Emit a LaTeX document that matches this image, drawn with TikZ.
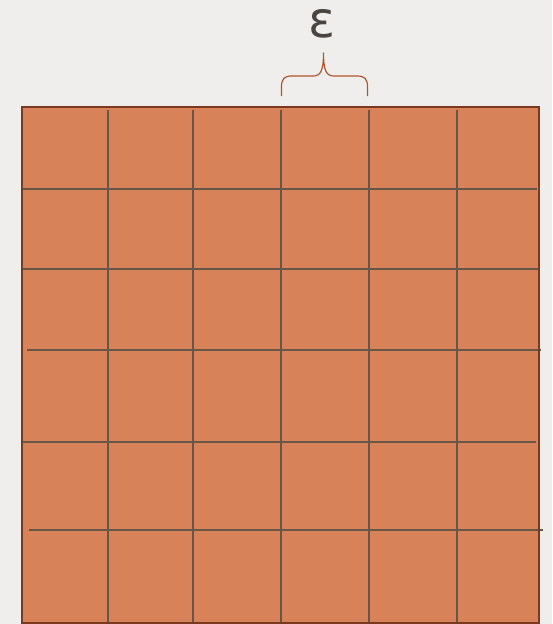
\documentclass[tikz,border=0pt]{standalone}
\usepackage{fontspec}
\newfontfamily\epsfont{DejaVu Sans}
\definecolor{bgc}{HTML}{EFEEEC}
\definecolor{tilec}{HTML}{D8825A}
\definecolor{borderc}{HTML}{7B3A1F}
\definecolor{gridc}{HTML}{665648}
\definecolor{bracec}{HTML}{B0552C}
\definecolor{epsc}{HTML}{4A4540}
\tikzset{
  gridline/.style={draw=gridc, line width=1.1pt},
  bracestyle/.style={draw=bracec, line width=1.2pt, line join=round},
}
\begin{document}
\begin{tikzpicture}[x=1pt,y=-1pt]
\fill[bgc] (0,0) rectangle (552,624);
\useasboundingbox (0,0) rectangle (552,624);
% tile
\fill[tilec] (22,107) rectangle (539,623);
% vertical grid lines
\foreach \xx in {108,193,281,369,457}
  \draw[gridline] (\xx,110) -- (\xx,622);
% horizontal grid lines
\draw[gridline] (22,189) -- (537,189);
\draw[gridline] (22,269) -- (538,269);
\draw[gridline] (27,350) -- (541,350);
\draw[gridline] (22,442) -- (536,442);
\draw[gridline] (29,530) -- (543,530);
% border
\draw[draw=borderc, line width=2.2pt] (22,107) rectangle (539,623);
% brace
\coordinate (bl) at (281.5,96);
\coordinate (br) at (367.5,96);
\coordinate (tip) at (323.5,53);
\draw[bracestyle] (bl) -- (281.5,87)
  .. controls (281.5,79) and (284,76) .. (292,76) -- (313,76)
  .. controls (320,76) and (323.5,72) .. (tip)
  .. controls (323.5,72) and (327,76) .. (334,76) -- (357,76)
  .. controls (365,76) and (367.5,79) .. (367.5,87) -- (br);
\node[text=epsc, font=\epsfont\fontsize{50}{50}\selectfont, inner sep=0pt, anchor=base] (eps) at (322,37) {ε};
\end{tikzpicture}
\end{document}
